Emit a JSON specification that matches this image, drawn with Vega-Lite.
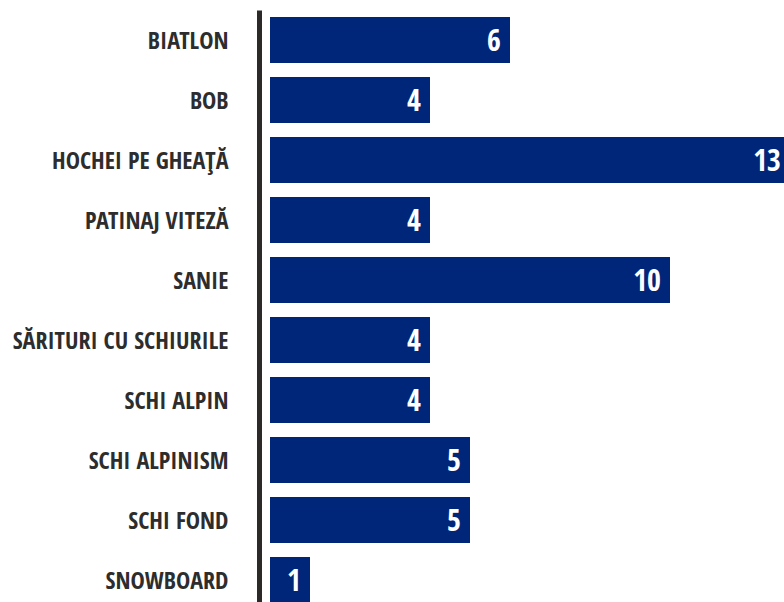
{
  "$schema": "https://vega.github.io/schema/vega-lite/v6.json",
  "width": 514,
  "height": 592,
  "autosize": {"type": "none"},
  "padding": {"left": 270, "top": 10, "right": 0, "bottom": 0},
  "background": "white",
  "config": {"view": {"stroke": null}},
  "data": {
    "values": [
      {"sport": "BIATLON", "value": 6},
      {"sport": "BOB", "value": 4},
      {"sport": "HOCHEI PE GHEAŢĂ", "value": 13},
      {"sport": "PATINAJ VITEZĂ", "value": 4},
      {"sport": "SANIE", "value": 10},
      {"sport": "SĂRITURI CU SCHIURILE", "value": 4},
      {"sport": "SCHI ALPIN", "value": 4},
      {"sport": "SCHI ALPINISM", "value": 5},
      {"sport": "SCHI FOND", "value": 5},
      {"sport": "SNOWBOARD", "value": 1}
    ]
  },
  "encoding": {
    "y": {
      "field": "sport",
      "type": "nominal",
      "sort": null,
      "scale": {"range": [0, 600], "paddingInner": 0.233, "paddingOuter": 0.117},
      "axis": {
        "title": null,
        "domainColor": "#2b2a29",
        "domainWidth": 5,
        "offset": 11,
        "ticks": false,
        "tickSize": 0,
        "labelPadding": 31,
        "labelOffset": 2,
        "labelLimit": 400,
        "labelFont": "Open Sans Condensed, Roboto Condensed, Noto Sans Condensed, Noto Sans Display Condensed, Liberation Sans Narrow, Arial Narrow, DejaVu Sans Condensed",
        "labelFontWeight": "bold",
        "labelFontSize": 24,
        "labelColor": "#2d2d2d"
      }
    },
    "x": {
      "field": "value",
      "type": "quantitative",
      "scale": {"domain": [0, 12.85]},
      "axis": null
    }
  },
  "layer": [
    {"mark": {"type": "bar", "color": "#00267a", "clip": true}},
    {
      "mark": {
        "type": "text",
        "align": "right",
        "baseline": "middle",
        "dx": -9,
        "dy": 2,
        "color": "white",
        "font": "Open Sans Condensed, Roboto Condensed, Noto Sans Condensed, Noto Sans Display Condensed, Liberation Sans Narrow, Arial Narrow, DejaVu Sans Condensed",
        "fontWeight": "bold",
        "fontSize": 30
      },
      "encoding": {"text": {"field": "value", "type": "quantitative"}}
    }
  ]
}
